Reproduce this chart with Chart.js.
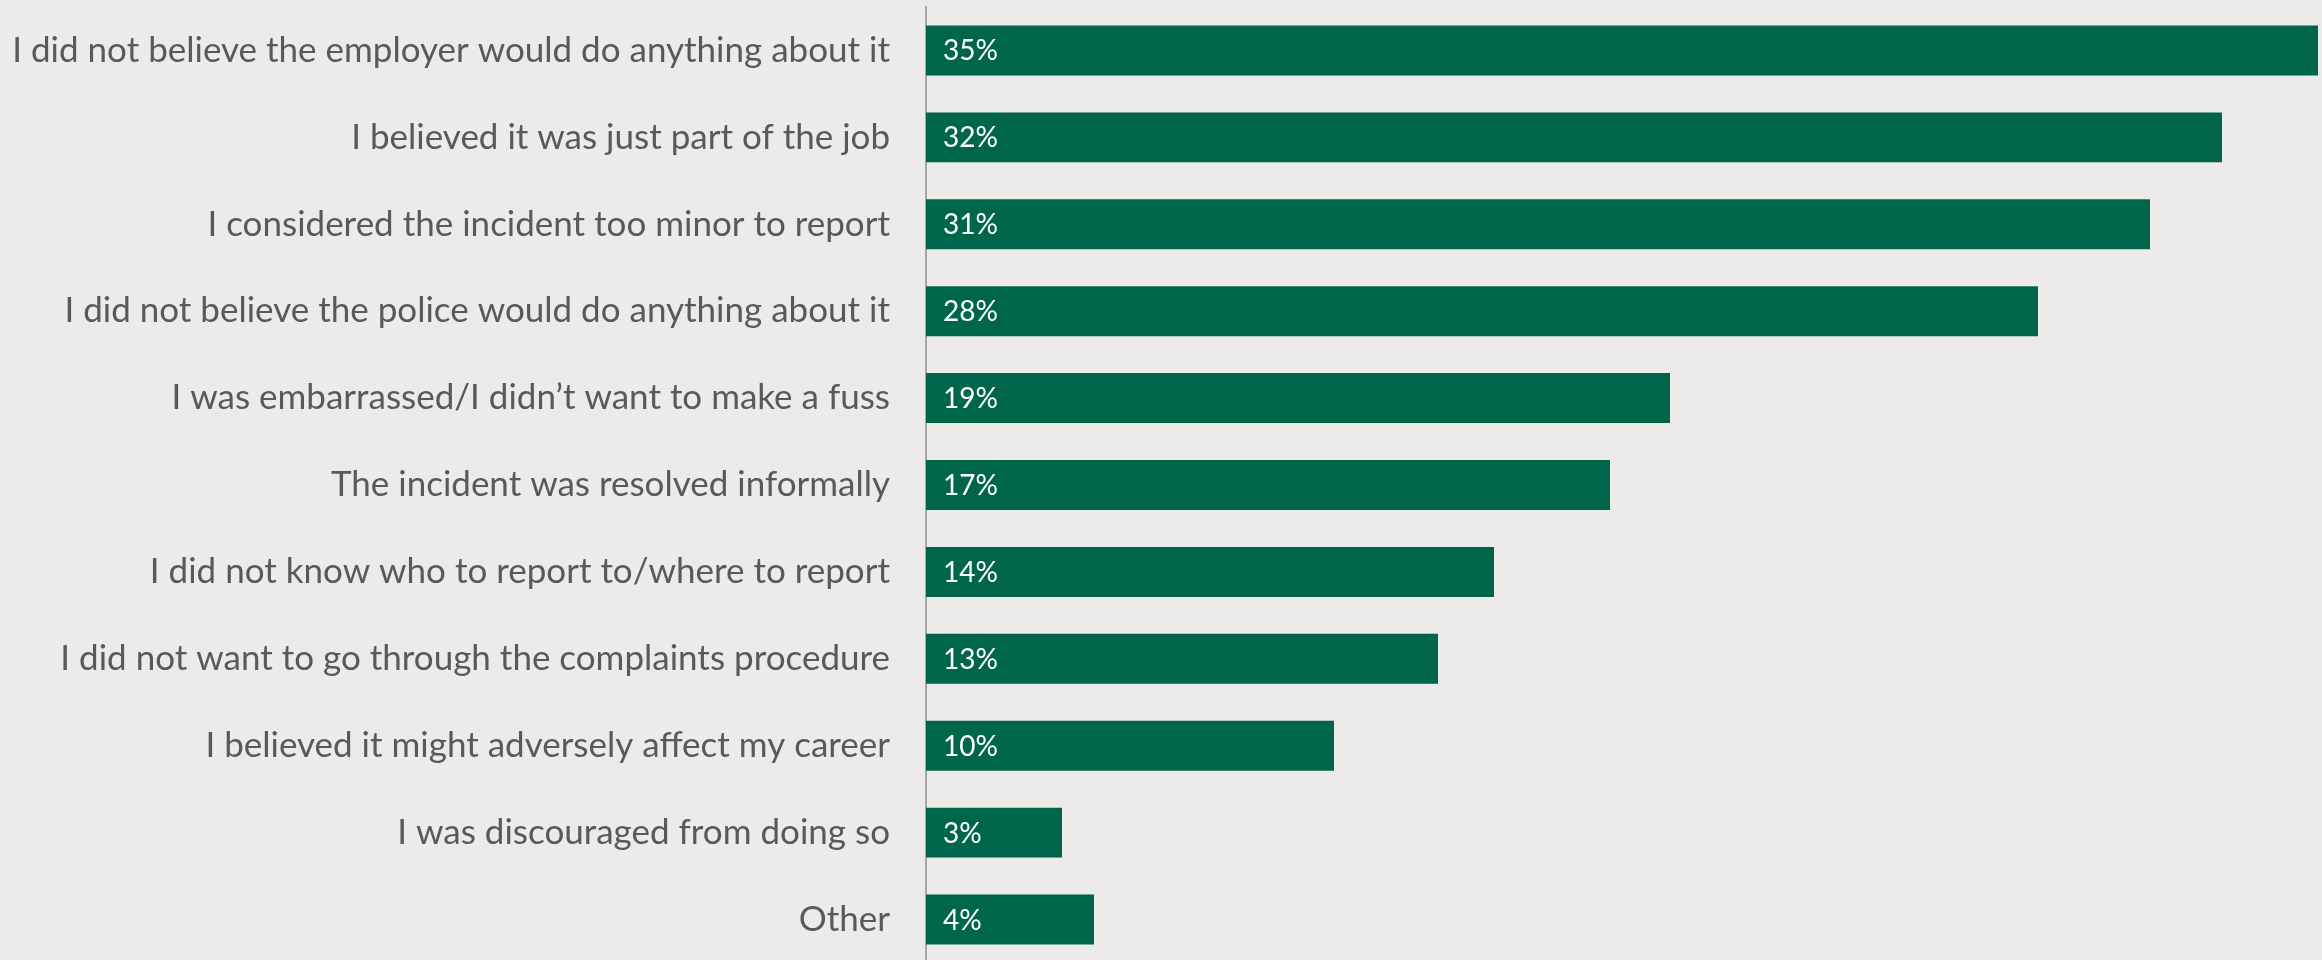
<!DOCTYPE html>
<html>
<head>
<meta charset="utf-8">
<script src="https://cdn.jsdelivr.net/npm/chart.js@4"></script>
<style>
  html, body { margin: 0; padding: 0; overflow: hidden; background: #ECEBE9; }
  canvas { display: block; }
</style>
</head>
<body>
<canvas id="motivosChart" width="2322" height="963"></canvas>
<script>
const categorias = [
    'I did not believe the employer would do anything about it',
    'I believed it was just part of the job',
    'I considered the incident too minor to report',
    'I did not believe the police would do anything about it',
    'I was embarrassed/I didn\u2019t want to make a fuss',
    'The incident was resolved informally',
    'I did not know who to report to/where to report',
    'I did not want to go through the complaints procedure',
    'I believed it might adversely affect my career',
    'I was discouraged from doing so',
    'Other'
];
// percentagens (valores sem arredondar)
const percentuais = [34.8, 32.4, 30.6, 27.8, 18.6, 17.1, 14.2, 12.8, 10.2, 3.4, 4.2];
const escalaMax = 34.9;

const corBarra = '#00664A';
const corTexto = '#595959';

// rótulos brancos dentro das barras
const rotulosBarras = {
    id: 'rotulosBarras',
    afterDatasetsDraw(chart) {
        const ctx = chart.ctx;
        const meta = chart.getDatasetMeta(0);
        ctx.save();
        ctx.fillStyle = '#FFFFFF';
        ctx.font = '28px Lato';
        ctx.textAlign = 'left';
        ctx.textBaseline = 'middle';
        meta.data.forEach((bar, i) => {
            const txt = Math.round(percentuais[i]) + '%';
            ctx.fillText(txt, bar.base + 17, bar.y + 1);
        });
        ctx.restore();
    }
};

const ctx = document.getElementById('motivosChart').getContext('2d');
const motivosChart = new Chart(ctx, {
    type: 'bar',
    data: {
        labels: categorias,
        datasets: [{
            data: percentuais,
            backgroundColor: corBarra,
            borderWidth: 0,
            barPercentage: 0.575,
            categoryPercentage: 1
        }]
    },
    options: {
        indexAxis: 'y',
        responsive: false,
        animation: false,
        layout: { padding: { top: 7, bottom: 0, left: 0, right: 0 } },
        scales: {
            x: {
                display: false,
                min: 0,
                max: escalaMax
            },
            y: {
                afterFit(scale) {
                    scale.width = 926;
                    scale.paddingTop = 0;
                    scale.paddingBottom = 0;
                },
                grid: { display: false, drawTicks: false },
                border: { display: true, color: '#A6A6A6', width: 2 },
                ticks: {
                    color: corTexto,
                    padding: 36,
                    font: { family: 'Lato', size: 35 }
                }
            }
        },
        plugins: {
            legend: { display: false },
            tooltip: { enabled: false }
        }
    },
    plugins: [rotulosBarras]
});
</script>
</body>
</html>
